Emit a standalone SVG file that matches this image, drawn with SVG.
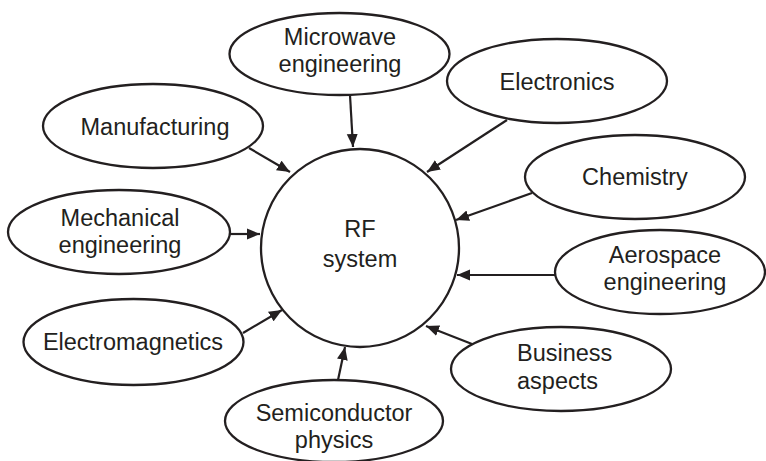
<svg xmlns="http://www.w3.org/2000/svg" width="766" height="461" viewBox="0 0 766 461">
<style>
.n{fill:#fff;stroke:#231f20;stroke-width:2.3}
.t{font-family:"Liberation Sans",Arial,sans-serif;font-size:23.5px;fill:#231f20;text-anchor:middle}
.l{font-family:"Liberation Sans",Arial,sans-serif;font-size:23.5px;fill:#231f20}
.c line{stroke:#231f20;stroke-width:2.2;marker-end:url(#ah)}
</style>
<defs>
<marker id="ah" markerUnits="userSpaceOnUse" markerWidth="14" markerHeight="12" refX="13" refY="6" orient="auto">
<path d="M0,0.5 L13,6 L0,11.5 z" fill="#231f20"/>
</marker>
</defs>
<rect width="766" height="461" fill="#fff"/>
<g class="c" id="connectors">
<line x1="350" y1="95" x2="353" y2="147"/>
<line x1="507" y1="120" x2="427" y2="172"/>
<line x1="532" y1="193" x2="456" y2="220"/>
<line x1="555" y1="275" x2="457" y2="275"/>
<line x1="472" y1="344" x2="426" y2="326"/>
<line x1="338" y1="380" x2="345" y2="347"/>
<line x1="243" y1="333" x2="282" y2="310"/>
<line x1="230" y1="234" x2="260" y2="234"/>
<line x1="249" y1="148" x2="290" y2="172"/>
</g>
<g id="rf">
<circle class="n" cx="360" cy="248" r="99"/>
<text class="t" x="360" y="237">RF<tspan x="360" dy="30">system</tspan></text>
</g>
<g id="microwave">
<ellipse class="n" cx="339.5" cy="54" rx="110" ry="41"/>
<text class="t" x="340" y="45">Microwave<tspan x="340" dy="27">engineering</tspan></text>
</g>
<g id="electronics">
<ellipse class="n" cx="557" cy="81" rx="110" ry="42"/>
<text class="t" x="557" y="90">Electronics</text>
</g>
<g id="chemistry">
<ellipse class="n" cx="635" cy="177" rx="110" ry="42"/>
<text class="t" x="635" y="185">Chemistry</text>
</g>
<g id="aerospace">
<ellipse class="n" cx="660" cy="272" rx="105" ry="42"/>
<text class="t" x="665" y="263">Aerospace<tspan x="665" dy="27">engineering</tspan></text>
</g>
<g id="business">
<ellipse class="n" cx="561" cy="369" rx="110" ry="42"/>
<text class="l" x="517" y="361">Business<tspan x="517" dy="28">aspects</tspan></text>
</g>
<g id="semiconductor">
<ellipse class="n" cx="334" cy="421" rx="109" ry="41"/>
<text class="t" x="334" y="421">Semiconductor<tspan x="334" dy="27">physics</tspan></text>
</g>
<g id="electromagnetics">
<ellipse class="n" cx="133.5" cy="342" rx="110" ry="43"/>
<text class="t" x="133" y="350">Electromagnetics</text>
</g>
<g id="mechanical">
<ellipse class="n" cx="119" cy="232" rx="111" ry="42"/>
<text class="t" x="120" y="226">Mechanical<tspan x="120" dy="27">engineering</tspan></text>
</g>
<g id="manufacturing">
<ellipse class="n" cx="153" cy="126" rx="110" ry="42"/>
<text class="t" x="155" y="135">Manufacturing</text>
</g>
</svg>
